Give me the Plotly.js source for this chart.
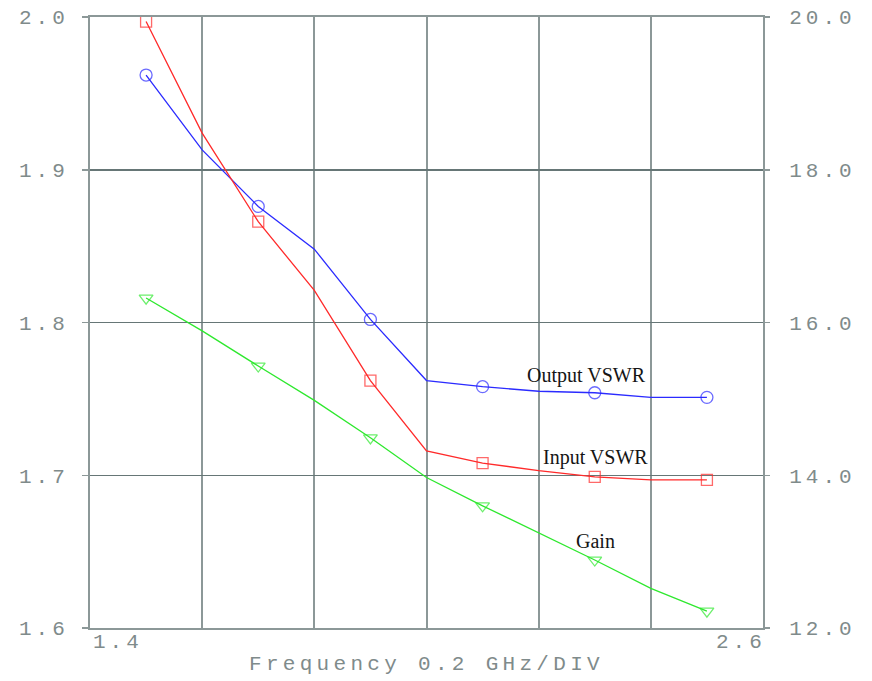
<!DOCTYPE html>
<html>
<head>
<meta charset="utf-8">
<script src="https://cdn.plot.ly/plotly-3.0.1.min.js"></script>
<style>
  html, body { margin: 0; padding: 0; background: #fff; }
  #chart { width: 872px; height: 681px; }
  .ytick text, .y2tick text, .annotation[data-index="3"] text, .annotation[data-index="4"] text { letter-spacing: 4px; }
  .xtitle { letter-spacing: 4.3px; }
</style>
</head>
<body>
<div id="chart"></div>
<script>
// Frequency (GHz), data sampled every 0.1 GHz, markers every 0.2 GHz
const freq = [1.5, 1.6, 1.7, 1.8, 1.9, 2.0, 2.1, 2.2, 2.3, 2.4, 2.5];
const outputVSWR = [1.962, 1.913, 1.876, 1.848, 1.802, 1.762, 1.758, 1.755, 1.754, 1.751, 1.751];
const inputVSWR  = [1.997, 1.924, 1.866, 1.821, 1.762, 1.716, 1.708, 1.703, 1.699, 1.697, 1.697];
const gain       = [16.32, 15.89, 15.43, 14.98, 14.49, 13.97, 13.60, 13.25, 12.89, 12.52, 12.22];
const markerShown = [1, 0, 1, 0, 1, 0, 1, 0, 1, 0, 1];

const leftTicks  = [1.6, 1.7, 1.8, 1.9, 2.0];
const leftLabels = ['1.6', '1.7', '1.8', '1.9', '2.0'];
const rightTicks  = [12, 14, 16, 18, 20];
const rightLabels = ['12.0', '14.0', '16.0', '18.0', '20.0'];
const xGrid = [1.6, 1.8, 2.0, 2.2, 2.4];
const xEndLabels = ['1.4', '2.6'];
const xRange = [1.4, 2.6];

const mk = s => markerShown.map(v => v ? s : 0);

const traces = [
  { x: freq, y: outputVSWR, type: 'scatter', mode: 'lines+markers', yaxis: 'y',
    line: { color: '#2b2bff', width: 1.3 },
    marker: { symbol: 'circle-open', size: mk(12), color: '#2b2bff', line: { width: 1.3 } } },
  { x: freq, y: inputVSWR, type: 'scatter', mode: 'lines+markers', yaxis: 'y',
    line: { color: '#ff2a2a', width: 1.3 },
    marker: { symbol: 'square-open', size: mk(11), color: '#ff2a2a', line: { width: 1.3 } } },
  { x: freq, y: gain, type: 'scatter', mode: 'lines+markers', yaxis: 'y2',
    line: { color: '#2ee82e', width: 1.3 },
    marker: { symbol: 'triangle-down-open', size: mk(12), color: '#2ee82e', line: { width: 1.3 } } }
];

const tickFont = { family: 'Liberation Mono, DejaVu Sans Mono, monospace', size: 21, color: '#7f8b8b' };
const labelFont = { family: 'Liberation Serif, serif', size: 20, color: '#151515' };

const layout = {
  width: 872, height: 681,
  margin: { l: 90, r: 109, t: 17, b: 53, pad: 0 },
  paper_bgcolor: '#ffffff', plot_bgcolor: '#ffffff',
  showlegend: false,
  xaxis: {
    range: xRange, tickmode: 'array', tickvals: xGrid, showticklabels: false, ticks: '',
    showgrid: true, gridcolor: '#8c9898', gridwidth: 2, zeroline: false,
    showline: true, mirror: true, linecolor: '#8c9898', linewidth: 2,
    title: { text: 'Frequency 0.2 GHz/DIV', font: tickFont, standoff: 26 }
  },
  yaxis: {
    range: [1.6, 2.0], tickmode: 'array', tickvals: leftTicks, ticktext: leftLabels,
    ticks: 'outside', ticklen: 6, tickcolor: '#8c9898', tickwidth: 1.5,
    ticklabelstandoff: 9, tickfont: tickFont,
    showgrid: true, gridcolor: '#667676', gridwidth: 1.5, zeroline: false,
    showline: true, mirror: true, linecolor: '#8c9898', linewidth: 2
  },
  yaxis2: {
    range: [12, 20], overlaying: 'y', side: 'right', tickmode: 'array',
    tickvals: rightTicks, ticktext: rightLabels,
    ticks: 'outside', ticklen: 6, tickcolor: '#8c9898', tickwidth: 1.5,
    ticklabelstandoff: 15, tickfont: tickFont,
    showgrid: false, zeroline: false, showline: false
  },
  annotations: [
    { x: 2.2845, y: 1.765, xref: 'x', yref: 'y', text: 'Output VSWR', showarrow: false, font: labelFont },
    { x: 2.302, y: 1.7113, xref: 'x', yref: 'y', text: 'Input VSWR', showarrow: false, font: labelFont },
    { x: 2.302, y: 1.657, xref: 'x', yref: 'y', text: 'Gain', showarrow: false, font: labelFont },
    { x: xRange[0], y: 0, xref: 'x', yref: 'paper', text: xEndLabels[0], showarrow: false,
      xanchor: 'left', yanchor: 'middle', xshift: 7, yshift: -14, font: tickFont },
    { x: xRange[1], y: 0, xref: 'x', yref: 'paper', text: xEndLabels[1], showarrow: false,
      xanchor: 'right', yanchor: 'middle', xshift: -1, yshift: -14, font: tickFont }
  ]
};

Plotly.newPlot('chart', traces, layout, { displayModeBar: false, staticPlot: true });
</script>
</body>
</html>
